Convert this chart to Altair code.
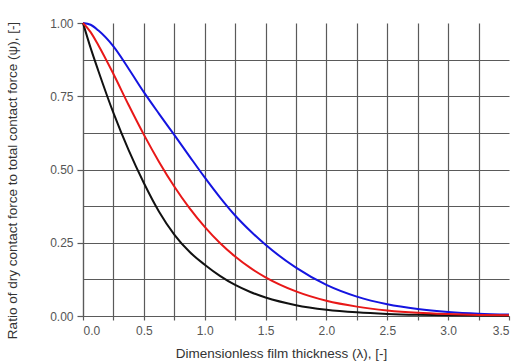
import altair as alt
import pandas as pd

lam = [0, 0.0625, 0.125, 0.25, 0.375, 0.5, 0.625, 0.75, 0.875, 1.0, 1.125, 1.25,
       1.375, 1.5, 1.75, 2.0, 2.25, 2.5, 2.75, 3.0, 3.25, 3.5]
psi_blue = [1.0, 0.994, 0.975, 0.92, 0.844, 0.764, 0.69, 0.618, 0.545, 0.473, 0.405, 0.343,
            0.29, 0.243, 0.165, 0.106, 0.066, 0.040, 0.024, 0.014, 0.008, 0.005]
psi_red = [1.0, 0.969, 0.925, 0.826, 0.72, 0.619, 0.526, 0.442, 0.368, 0.304, 0.249, 0.203,
           0.164, 0.132, 0.084, 0.052, 0.032, 0.019, 0.011, 0.0066, 0.0038, 0.0022]
psi_black = [1.0, 0.915, 0.838, 0.693, 0.566, 0.454, 0.356, 0.278, 0.219, 0.175, 0.137, 0.106,
             0.082, 0.063, 0.037, 0.0216, 0.0125, 0.0071, 0.004, 0.0023, 0.0013, 0.0007]

series_names = ["blue", "black", "red"]
series_colors = ["#1414e0", "#111111", "#e81818"]
x_ticks = [i * 0.25 for i in range(15)]
y_ticks = [i * 0.125 for i in range(9)]

rows = []
for name, vals in zip(series_names, [psi_blue, psi_black, psi_red]):
    for i, (x, y) in enumerate(zip(lam, vals)):
        rows.append({"lam": x, "psi": y, "series": name, "idx": i})
df = pd.DataFrame(rows)

GRID = "#5a5a5a"
FONT = "Liberation Sans"

chart = alt.Chart(df).mark_line(strokeWidth=2, interpolate="monotone").encode(
    x=alt.X(
        "lam:Q",
        scale=alt.Scale(domain=[0, 3.5], nice=False, zero=False),
        axis=alt.Axis(
            values=x_ticks,
            labelExpr="(datum.value * 2) % 1 == 0 ? format(datum.value, '.1f') : ''",
            title="Dimensionless film thickness (λ), [-]",
            grid=True,
            gridColor=GRID,
            gridWidth=1.2,
            gridOpacity={"condition": {"test": "datum.value >= 3.5", "value": 0}, "value": 1},
            domainColor=GRID,
            domainWidth=1.2,
            tickColor=GRID,
            tickWidth=1.2,
            tickSize=4,
            labelPadding=5,
            labelFont=FONT,
            labelFontSize=12,
            labelColor="#555555",
            titleFont=FONT,
            titleFontSize=13.5,
            titleFontWeight="normal",
            titleColor="#333333",
            titleX=198,
            titleY=37,
            titleBaseline="middle",
            titleAlign="center",
        ),
    ),
    y=alt.Y(
        "psi:Q",
        scale=alt.Scale(domain=[0, 1], nice=False, zero=False),
        axis=alt.Axis(
            values=y_ticks,
            labelExpr="(datum.value * 4) % 1 == 0 ? format(datum.value, '.2f') : ''",
            title="Ratio of dry contact force to total contact force (ψ), [-]",
            grid=True,
            gridColor=GRID,
            gridWidth=1.2,
            gridOpacity={"condition": {"test": "datum.value >= 1", "value": 0}, "value": 1},
            tickOpacity={"condition": {"test": "(datum.value * 4) % 1 == 0", "value": 1}, "value": 0},
            domainColor=GRID,
            domainWidth=1.2,
            tickColor=GRID,
            tickWidth=1.2,
            tickSize=6,
            labelPadding=4,
            labelFont=FONT,
            labelFontSize=12,
            labelColor="#555555",
            titleFont=FONT,
            titleFontSize=13.5,
            titleFontWeight="normal",
            titleColor="#333333",
            titleX=-71,
            titleY=157,
            titleAngle=-90,
            titleBaseline="middle",
            titleAlign="center",
        ),
    ),
    color=alt.Color(
        "series:N",
        scale=alt.Scale(domain=series_names, range=series_colors),
        legend=None,
    ),
    order=alt.Order("idx:Q"),
).properties(
    width=426,
    height=293,
    autosize=alt.AutoSizeParams(type="none"),
    padding={"left": 83, "top": 23, "right": 9, "bottom": 47},
    background="white",
).configure_view(stroke=None)

chart.save("out.html", embed_options={"renderer": "svg", "actions": False})
